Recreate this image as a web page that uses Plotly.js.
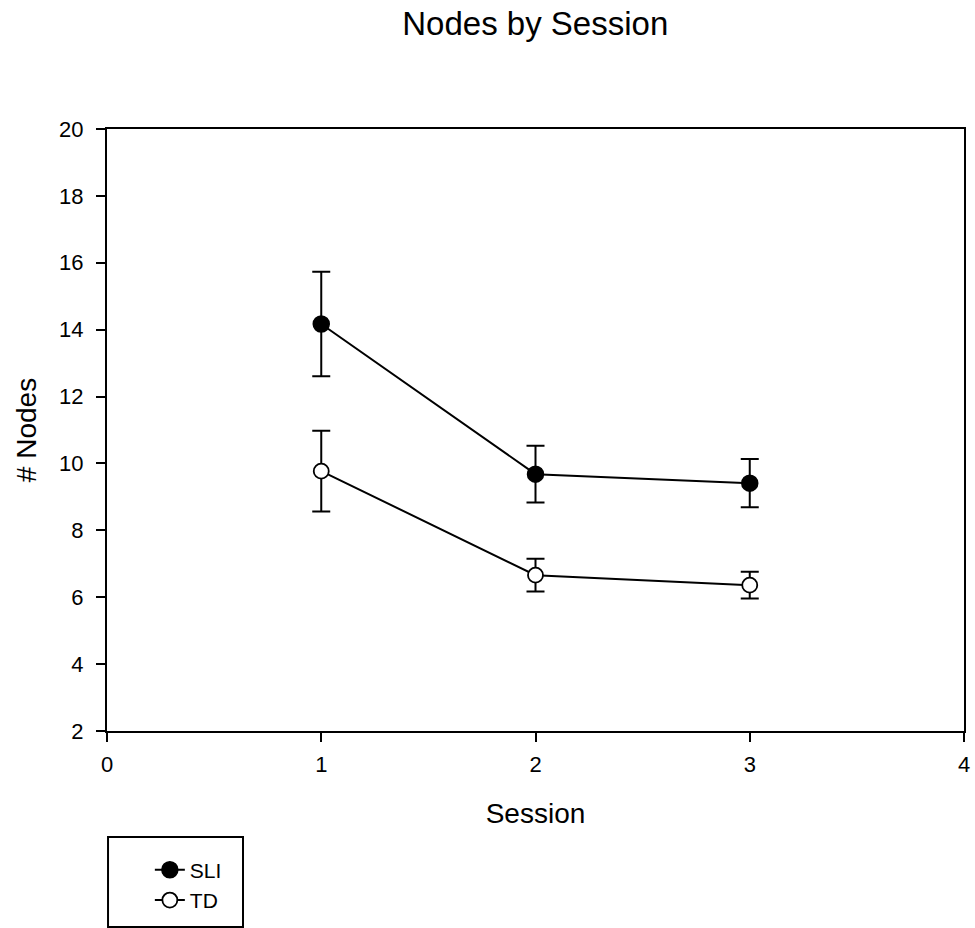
<!DOCTYPE html>
<html>
<head>
<meta charset="utf-8">
<script src="https://cdn.plot.ly/plotly-3.0.1.min.js"></script>
<style>html,body{margin:0;padding:0;background:#fff;}#chart{width:975px;height:928px;}</style>
</head>
<body>
<div id="chart"></div>
<script>
const sessions = [1, 2, 3];
const sliMean = [14.17, 9.68, 9.41];
const sliErr = [1.56, 0.85, 0.72];
const tdMean = [9.77, 6.66, 6.36];
const tdErr = [1.21, 0.49, 0.40];

const font = 'Arial, "Liberation Sans", sans-serif';

const traces = [
  {
    x: sessions, y: sliMean, name: 'SLI', type: 'scatter', mode: 'lines+markers',
    line: {color: '#000', width: 2},
    marker: {color: '#000', size: 16, line: {color: '#000', width: 1.5}},
    error_y: {type: 'data', array: sliErr, visible: true, color: '#000', thickness: 2, width: 9}
  },
  {
    x: sessions, y: tdMean, name: 'TD', type: 'scatter', mode: 'lines+markers',
    line: {color: '#000', width: 2},
    marker: {color: '#fff', size: 15, line: {color: '#000', width: 1.8}},
    error_y: {type: 'data', array: tdErr, visible: true, color: '#000', thickness: 2, width: 9}
  }
];

const layout = {
  width: 975, height: 928,
  margin: {l: 107, r: 11, t: 129, b: 197, autoexpand: false},
  paper_bgcolor: '#fff', plot_bgcolor: '#fff',
  font: {family: font, color: '#000', size: 22},
  title: {text: 'Nodes by Session', font: {family: font, size: 33, color: '#000'}, x: 0.549, xanchor: 'center', y: 0.975, yanchor: 'middle'},
  xaxis: {
    range: [0, 4], tickvals: [0, 1, 2, 3, 4], ticktext: ['0', '1', '2', '3', '4'],
    showgrid: false, zeroline: false, showline: true, linecolor: '#000', linewidth: 2, mirror: true,
    ticks: 'outside', ticklen: 9, tickwidth: 2, tickcolor: '#000', ticklabelstandoff: 4,
    tickfont: {size: 22, family: font}, automargin: false,
    title: {text: 'Session', font: {size: 28, family: font}, standoff: 27}
  },
  yaxis: {
    range: [2, 20], tickvals: [2, 4, 6, 8, 10, 12, 14, 16, 18, 20],
    showgrid: false, zeroline: false, showline: true, linecolor: '#000', linewidth: 2, mirror: true,
    ticks: 'outside', ticklen: 9, tickwidth: 2, tickcolor: '#000', ticklabelstandoff: 8,
    tickfont: {size: 22, family: font}, automargin: false,
    title: {text: '# Nodes', font: {size: 28, family: font}, standoff: 14}
  },
  showlegend: true,
  legend: {
    x: 0.05, xanchor: 'left', y: -0.197, yanchor: 'top',
    borderwidth: 0, bgcolor: 'rgba(0,0,0,0)',
    font: {size: 21, family: font}, tracegroupgap: 0
  },
  shapes: [
    {type: 'rect', xref: 'paper', yref: 'paper', x0: 0.0012, x1: 0.1587, y0: -0.176, y1: -0.3256,
     line: {color: '#000', width: 2}, fillcolor: 'rgba(0,0,0,0)', layer: 'above'}
  ]
};

Plotly.newPlot('chart', traces, layout, {displayModeBar: false, staticPlot: true});
</script>
</body>
</html>
